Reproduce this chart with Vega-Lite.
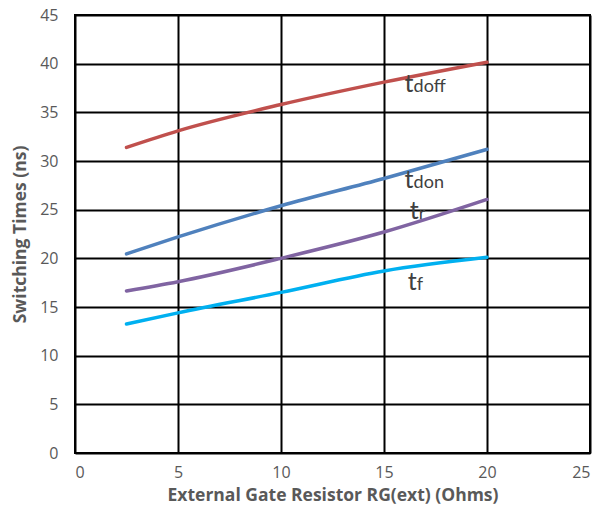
{
  "$schema": "https://vega.github.io/schema/vega-lite/v6.json",
  "width": 515,
  "height": 438,
  "autosize": {"type": "none"},
  "padding": {"left": 75, "top": 15, "right": 16, "bottom": 53},
  "background": "white",
  "config": {
    "view": {"stroke": "black", "strokeWidth": 2},
    "font": "Open Sans"
  },
  "datasets": {
    "curves": [
      {"series": "tdoff", "rg": 2.5, "t": 31.4},
      {"series": "tdoff", "rg": 5, "t": 33.1},
      {"series": "tdoff", "rg": 10, "t": 35.8},
      {"series": "tdoff", "rg": 15, "t": 38.1},
      {"series": "tdoff", "rg": 20, "t": 40.15},
      {"series": "tdon", "rg": 2.5, "t": 20.45},
      {"series": "tdon", "rg": 5, "t": 22.2},
      {"series": "tdon", "rg": 10, "t": 25.4},
      {"series": "tdon", "rg": 15, "t": 28.2},
      {"series": "tdon", "rg": 20, "t": 31.2},
      {"series": "tr", "rg": 2.5, "t": 16.65},
      {"series": "tr", "rg": 5, "t": 17.6},
      {"series": "tr", "rg": 10, "t": 20.0},
      {"series": "tr", "rg": 15, "t": 22.7},
      {"series": "tr", "rg": 20, "t": 26.05},
      {"series": "tf", "rg": 2.5, "t": 13.25},
      {"series": "tf", "rg": 5, "t": 14.4},
      {"series": "tf", "rg": 10, "t": 16.5},
      {"series": "tf", "rg": 15, "t": 18.7},
      {"series": "tf", "rg": 20, "t": 20.1}
    ],
    "labels": [
      {"series": "tdoff", "main": "t", "sub": "doff", "rg": 16.0, "t": 37.1},
      {"series": "tdon", "main": "t", "sub": "don", "rg": 16.0, "t": 27.2},
      {"series": "tr", "main": "t", "sub": "r", "rg": 16.25, "t": 24.0},
      {"series": "tf", "main": "t", "sub": "f", "rg": 16.15, "t": 16.75}
    ]
  },
  "layer": [
    {
      "data": {"name": "curves"},
      "mark": {"type": "line", "interpolate": "monotone", "strokeWidth": 3.5, "strokeCap": "round"},
      "encoding": {
        "x": {
          "field": "rg", "type": "quantitative",
          "scale": {"domain": [0, 25], "nice": false},
          "axis": {
            "title": "External Gate Resistor RG(ext) (Ohms)",
            "values": [0, 5, 10, 15, 20, 25],
            "grid": true, "gridColor": "black", "gridWidth": 2, "gridOpacity": 1,
            "domain": false, "ticks": false,
            "labelFont": "Open Sans", "labelFontSize": 16, "labelColor": "#595959", "labelPadding": 11,
            "titleFont": "Open Sans", "titleFontSize": 17.5, "titleFontWeight": "bold", "titleColor": "#595959", "titlePadding": 6
          }
        },
        "y": {
          "field": "t", "type": "quantitative",
          "scale": {"domain": [0, 45], "nice": false},
          "axis": {
            "title": "Switching Times (ns)",
            "values": [0, 5, 10, 15, 20, 25, 30, 35, 40, 45],
            "grid": true, "gridColor": "black", "gridWidth": 2, "gridOpacity": 1,
            "domain": false, "ticks": false,
            "labelFont": "Open Sans", "labelFontSize": 16, "labelColor": "#595959", "labelPadding": 17,
            "titleFont": "Open Sans", "titleFontSize": 17.5, "titleFontWeight": "bold", "titleColor": "#595959", "titlePadding": 10
          }
        },
        "color": {
          "field": "series", "type": "nominal",
          "scale": {"domain": ["tdoff", "tdon", "tr", "tf"], "range": ["#C0504D", "#4F81BD", "#8064A2", "#00B0F0"]},
          "legend": null
        }
      }
    },
    {
      "data": {"name": "labels"},
      "mark": {"type": "text", "align": "left", "baseline": "alphabetic", "fontSize": 25, "color": "#404040", "font": "Lato"},
      "encoding": {
        "x": {"field": "rg", "type": "quantitative"},
        "y": {"field": "t", "type": "quantitative"},
        "text": {"field": "main"}
      }
    },
    {
      "data": {"name": "labels"},
      "mark": {"type": "text", "align": "left", "baseline": "alphabetic", "fontSize": 18, "color": "#404040", "font": "Lato", "dx": 9},
      "encoding": {
        "x": {"field": "rg", "type": "quantitative"},
        "y": {"field": "t", "type": "quantitative"},
        "text": {"field": "sub"}
      }
    }
  ]
}
